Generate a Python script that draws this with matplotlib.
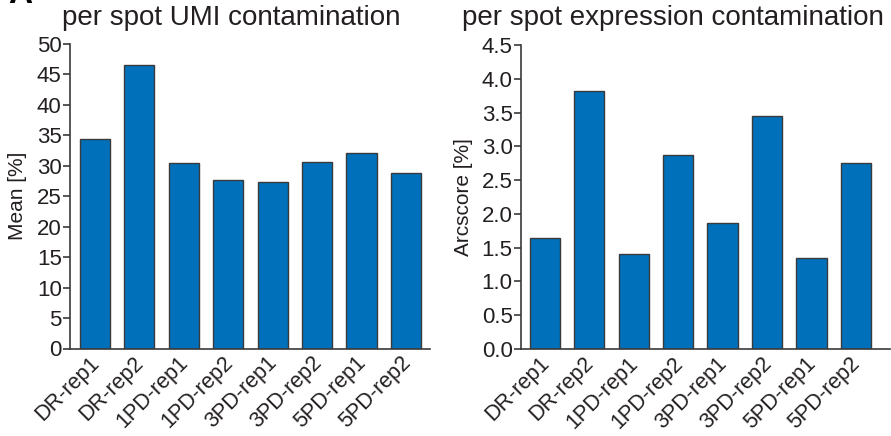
import matplotlib
matplotlib.use("Agg")
import matplotlib.pyplot as plt
import matplotlib.transforms as mtransforms

plt.rcParams['font.family'] = ['Liberation Sans', 'DejaVu Sans']

samples = ["DR-rep1", "DR-rep2", "1PD-rep1", "1PD-rep2",
           "3PD-rep1", "3PD-rep2", "5PD-rep1", "5PD-rep2"]
umi_contamination = [34.4, 46.5, 30.5, 27.7, 27.3, 30.7, 32.1, 28.8]
expr_contamination = [1.64, 3.82, 1.40, 2.87, 1.86, 3.45, 1.34, 2.76]

umi_ticks = [0, 5, 10, 15, 20, 25, 30, 35, 40, 45, 50]
expr_ticks = [0.0, 0.5, 1.0, 1.5, 2.0, 2.5, 3.0, 3.5, 4.0, 4.5]

BAR = "#0070BA"
EDGE = "#3a3a3a"
TXT = "#231f20"

fig = plt.figure(figsize=(8.91, 4.36), dpi=100)
H, W = 436.0, 891.0
ax1 = fig.add_axes([70 / W, 1 - 348.5 / H, (430 - 70) / W, (348.5 - 44) / H])
ax2 = fig.add_axes([521 / W, 1 - 349 / H, (890 - 521) / W, (349 - 45) / H])

# rotated category labels sit slightly left of and just below each bar
label_shift = mtransforms.ScaledTranslation(-6 / 100, -4 / 100, fig.dpi_scale_trans)


def style(ax, values, ticks, ylabel, title, xlim, fmt, title_x, ylabel_x):
    x = list(range(len(samples)))
    ax.bar(x, values, width=0.68, color=BAR, edgecolor=EDGE, linewidth=1.0)
    ax.set_xlim(*xlim)
    ax.set_ylim(ticks[0], ticks[-1])
    ax.set_yticks(ticks)
    ax.set_yticklabels([fmt(t) for t in ticks])
    ax.set_xticks(x)
    ax.set_xticklabels([])
    for i, name in zip(x, samples):
        ax.text(i, 0, name, rotation=45, ha='right', va='top',
                rotation_mode='anchor', fontsize=15.5, color=TXT,
                transform=ax.get_xaxis_transform() + label_shift)
    for s in ['top', 'right']:
        ax.spines[s].set_visible(False)
    for s in ['left', 'bottom']:
        ax.spines[s].set_color(EDGE)
        ax.spines[s].set_linewidth(1.2)
    ax.tick_params(axis='y', direction='out', length=5, width=1.2, color=EDGE,
                   labelsize=16, labelcolor=TXT, pad=1)
    ax.tick_params(axis='x', length=0)
    ax.set_ylabel(ylabel, fontsize=15, color=TXT)
    pos = ax.get_position()
    ax.yaxis.set_label_coords(ylabel_x / W, (pos.y0 + pos.y1) / 2,
                              transform=fig.transFigure)
    fig.text(title_x / W, 1 - 25 / H, title, ha='center', va='baseline',
             fontsize=20, color=TXT)


style(ax1, umi_contamination, umi_ticks, "Mean [%]", "per spot UMI contamination",
      (-0.56, 7.54), lambda t: f"{t:d}", 231, 27)
style(ax2, expr_contamination, expr_ticks, "Arcscore [%]", "per spot expression contamination",
      (-0.54, 7.77), lambda t: f"{t:.1f}", 673, 473)

fig.text(20 / W, 1 - 3 / H, "A", ha='center', va='baseline', fontsize=24,
         weight='bold', color='black')

fig.savefig("out.png", dpi=100)
